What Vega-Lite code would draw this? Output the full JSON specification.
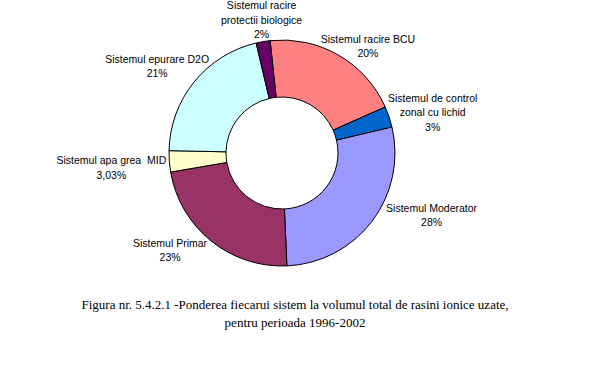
{
  "$schema": "https://vega.github.io/schema/vega-lite/v6.json",
  "width": 564,
  "height": 270,
  "autosize": {"type": "none"},
  "padding": {"left": 0, "top": 18, "right": 27, "bottom": 81},
  "background": "white",
  "config": {"view": {"stroke": null}, "text": {"font": "Liberation Sans", "fontSize": 10.5, "lineBreak": "\n", "lineHeight": 14.5, "align": "center", "baseline": "middle", "color": "black"}},
  "title": {
    "text": ["Figura nr. 5.4.2.1 -Ponderea fiecarui sistem la volumul total de rasini ionice uzate,", "pentru perioada 1996-2002"],
    "orient": "bottom", "anchor": "middle", "frame": "group",
    "font": "Liberation Serif", "fontSize": 13, "fontWeight": "normal", "color": "black",
    "lineHeight": 18, "offset": 11, "dx": 13
  },
  "data": {"values": [
    {"n": 1, "name": "Sistemul racire BCU", "value": 20, "label": "Sistemul racire BCU\n20%"},
    {"n": 2, "name": "Sistemul de control zonal cu lichid", "value": 3, "label": "Sistemul de control\nzonal cu lichid\n3%"},
    {"n": 3, "name": "Sistemul Moderator", "value": 28, "label": "Sistemul Moderator\n28%"},
    {"n": 4, "name": "Sistemul Primar", "value": 23, "label": "Sistemul Primar\n23%"},
    {"n": 5, "name": "Sistemul apa grea MID", "value": 3.03, "label": "Sistemul apa grea \u00a0MID\n3,03%"},
    {"n": 6, "name": "Sistemul epurare D2O", "value": 21, "label": "Sistemul epurare D2O\n21%"},
    {"n": 7, "name": "Sistemul racire protectii biologice", "value": 2, "label": "Sistemul racire\nprotectii biologice\n2%"}
  ]},
  "encoding": {
    "theta": {"field": "value", "type": "quantitative", "stack": true, "scale": {"range": [-0.105, 6.178]}},
    "order": {"field": "n", "type": "quantitative"}
  },
  "layer": [
    {
      "mark": {"type": "arc", "outerRadius": 113, "innerRadius": 56, "stroke": "black", "strokeWidth": 1},
      "encoding": {
        "color": {"field": "name", "type": "nominal", "legend": null,
          "scale": {"domain": ["Sistemul racire BCU", "Sistemul de control zonal cu lichid", "Sistemul Moderator", "Sistemul Primar", "Sistemul apa grea MID", "Sistemul epurare D2O", "Sistemul racire protectii biologice"],
                    "range": ["#FF8080", "#0066CC", "#9999FF", "#993366", "#FFFFCC", "#CCFFFF", "#660066"]}}
      }
    },
    {"mark": {"type": "text", "dx": 16, "dy": 8}, "encoding": {"radius": {"value": 140}, "text": {"condition": {"test": "datum.n == 1", "field": "label"}, "value": ""}}},
    {"mark": {"type": "text", "dx": 18, "dy": -9.5}, "encoding": {"radius": {"value": 140}, "text": {"condition": {"test": "datum.n == 2", "field": "label"}, "value": ""}}},
    {"mark": {"type": "text", "dx": 38, "dy": -29}, "encoding": {"radius": {"value": 140}, "text": {"condition": {"test": "datum.n == 3", "field": "label"}, "value": ""}}},
    {"mark": {"type": "text", "dx": -24, "dy": -18}, "encoding": {"radius": {"value": 140}, "text": {"condition": {"test": "datum.n == 4", "field": "label"}, "value": ""}}},
    {"mark": {"type": "text", "dx": -31, "dy": -2}, "encoding": {"radius": {"value": 140}, "text": {"condition": {"test": "datum.n == 5", "field": "label"}, "value": ""}}},
    {"mark": {"type": "text", "dx": -16, "dy": -5}, "encoding": {"radius": {"value": 140}, "text": {"condition": {"test": "datum.n == 6", "field": "label"}, "value": ""}}},
    {"mark": {"type": "text", "dx": 3, "dy": -8.5}, "encoding": {"radius": {"value": 140}, "text": {"condition": {"test": "datum.n == 7", "field": "label"}, "value": ""}}}
  ]
}
